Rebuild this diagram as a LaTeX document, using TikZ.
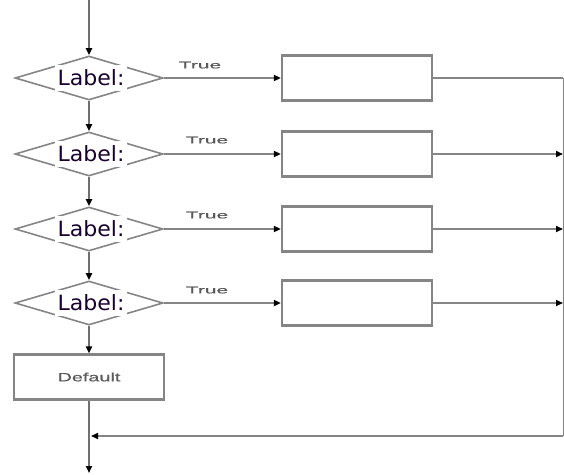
\documentclass[tikz,border=0pt]{standalone}
\usepackage{fontspec}
\usetikzlibrary{shapes.geometric,arrows.meta}
\newfontfamily\lblfont[FakeStretch=1.05]{DejaVu Sans}
\newfontfamily\truefont[FakeStretch=2.1,FakeBold=0.6]{Liberation Sans}
\newfontfamily\deffont[FakeStretch=1.65,FakeBold=0.6]{Liberation Sans}
\definecolor{ln}{HTML}{707070}
\definecolor{bx}{HTML}{858585}
\begin{document}
\begin{tikzpicture}[x=1pt,y=-1pt,
  tip/.style={-{Triangle[length=7pt,width=6pt,color=black]}},
  conn/.style={draw=ln,line width=2.2pt,tip},
  hconn/.style={draw=bx,line width=1.6pt,tip},
  dec/.style={diamond,draw=bx,line width=1.6pt,minimum width=148pt,minimum height=44pt,aspect=3.36,inner sep=0pt},
  lbl/.style={fill=white,inner sep=0pt,minimum width=72pt,minimum height=26pt,font=\lblfont\fontsize{21}{24}\selectfont,text=black!80!blue!90!red},
  stepbox/.style={draw=bx,line width=2.2pt,minimum width=150pt,minimum height=45pt,inner sep=0pt},
  truelbl/.style={font=\truefont\fontsize{10}{12}\selectfont,text=black!65,inner sep=0pt}
]
\useasboundingbox (0,0) rectangle (564,474);
\coordinate (top) at (89,0);
\node[dec] (d1) at (89,78) {};
\node[dec] (d2) at (89,154) {};
\node[dec] (d3) at (89,229) {};
\node[dec] (d4) at (89,303) {};
\foreach \i in {1,2,3,4}{
  \node[lbl] (l\i) at ([xshift=2pt]d\i.center) {Label:};
}
\node[stepbox] (r1) at (357,78) {};
\node[stepbox] (r2) at (357,154) {};
\node[stepbox] (r3) at (357,229) {};
\node[stepbox] (r4) at (357,303) {};
\node[stepbox] (def) at (89,377) {\deffont\fontsize{12}{14}\selectfont\color{black!65}Default};
\node[truelbl] (t1) at (200,65) {True};
\node[truelbl] (t2) at (207,140) {True};
\node[truelbl] (t3) at (207,215) {True};
\node[truelbl] (t4) at (207,290) {True};
\coordinate (rc1) at (563,78);
\coordinate (rc2) at (563,154);
\coordinate (rc3) at (563,229);
\coordinate (rc4) at (563,303);
\coordinate (rb) at (563,436);
\coordinate (jnr) at (91,436);
\coordinate (bot) at (89,473);
% main flow
\draw[conn] (top) -- (d1.north);
\draw[conn] (d1.south) -- (d2.north);
\draw[conn] (d2.south) -- (d3.north);
\draw[conn] (d3.south) -- (d4.north);
\draw[conn] (d4.south) -- (def.north);
\draw[conn] (def.south) -- (bot);
% true branches
\foreach \i in {1,2,3,4}{
  \draw[hconn] (d\i.east) -- (r\i.west);
}
\draw[draw=bx,line width=1.6pt] (r1.east) -- (rc1);
\foreach \i in {2,3,4}{
  \draw[hconn] (r\i.east) -- (rc\i);
}
\draw[draw=bx,line width=1pt] (rc1) -- (rb);
\draw[hconn] (rb) -- (jnr);
\end{tikzpicture}
\end{document}
